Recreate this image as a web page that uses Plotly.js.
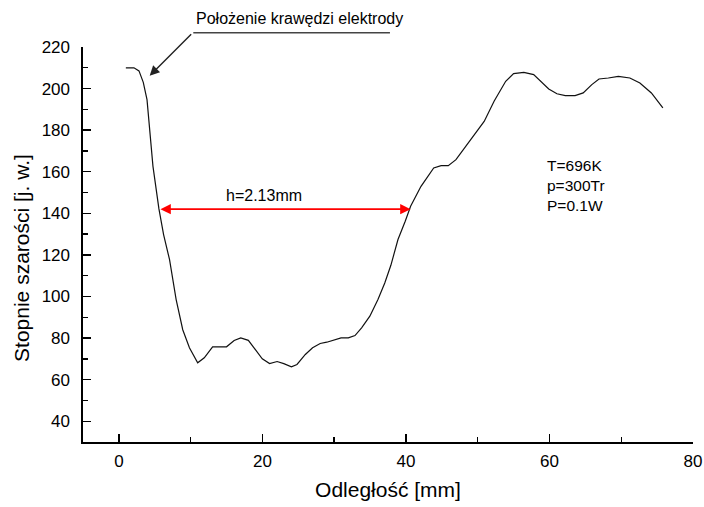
<!DOCTYPE html>
<html>
<head>
<meta charset="utf-8">
<script src="https://cdn.plot.ly/plotly-3.0.1.min.js"></script>
<style>html,body{margin:0;padding:0;background:#fff;}#chart{width:704px;height:507px;}</style>
</head>
<body>
<div id="chart"></div>
<script>
// Distance along the sample [mm]
const distance = [0.97, 2.1, 2.8, 3.4, 3.92, 4.75, 5.58, 6.23, 7.06, 7.98, 8.9, 9.83, 10.98, 11.9, 13.06, 15.0, 16.06, 16.98, 18.04, 19.98, 21.0, 22.05, 22.98, 24.04, 24.82, 25.98, 26.99, 28.05, 28.97, 29.9, 30.96, 31.97, 32.9, 33.82, 34.97, 36.1, 37.05, 37.9, 38.89, 39.9, 40.65, 42.1, 43.87, 44.9, 45.9, 46.97, 49.0, 50.0, 50.9, 52.3, 53.9, 55.0, 56.43, 57.8, 58.96, 59.9, 61.04, 62.2, 63.57, 64.7, 65.9, 66.9, 68.2, 69.6, 71.2, 72.6, 74.2, 75.8];
// Grey level [arb. units]
const greyLevel = [210, 210, 208.5, 203, 194.7, 162.6, 142.1, 129.8, 117.7, 98.5, 84, 75.3, 68.1, 70.5, 75.8, 75.8, 78.8, 80.1, 78.9, 70.0, 67.7, 68.7, 67.7, 66.2, 67.3, 72.1, 75.3, 77.4, 78.0, 78.9, 80.1, 80.1, 81.2, 84.9, 90.5, 98.5, 106.5, 115, 127.4, 136.2, 143.4, 153, 161.8, 162.9, 162.9, 165.8, 175.4, 180.2, 184.2, 194, 203.5, 207.2, 207.8, 206.7, 202.7, 199.8, 197.5, 196.6, 196.6, 197.9, 201.9, 204.6, 205.1, 205.9, 205.1, 202.7, 197.9, 190.7];

// Width marker (h) endpoints and level
const hStart = 5.58;
const hEnd = 40.65;
const hLevel = 142;
const hLabel = 'h=2.13mm';
// Electrode edge pointer target
const edgeX = 4.29;
const edgeY = 206.2;
const edgeLabel = 'Położenie krawędzi elektrody';
const conditions = ['T=696K', 'p=300Tr', 'P=0.1W'];
const xTitle = 'Odległość [mm]';
const yTitle = 'Stopnie szarości [j. w.]';

const FONT = 'Liberation Sans, Arial, Helvetica, sans-serif';

const trace = {
  x: distance,
  y: greyLevel,
  type: 'scatter',
  mode: 'lines',
  line: {color: '#111', width: 1.2},
  hoverinfo: 'x+y',
  showlegend: false
};

const axisCommon = {
  showgrid: false,
  zeroline: false,
  showline: true,
  linecolor: '#000',
  linewidth: 1.6,
  ticks: 'inside',
  ticklen: 8,
  tickwidth: 1.4,
  tickcolor: '#000',
  tickfont: {family: FONT, size: 17, color: '#000'},
  ticklabeloverflow: 'allow',
  mirror: false
};

const layout = {
  width: 704,
  height: 507,
  margin: {l: 83, r: 11, t: 47, b: 65},
  paper_bgcolor: '#fff',
  plot_bgcolor: '#fff',
  font: {family: FONT, color: '#000'},
  xaxis: Object.assign({}, axisCommon, {
    range: [-5, 80],
    tick0: 0,
    dtick: 20,
    ticklabelstandoff: 3,
    minor: {dtick: 10, ticks: 'inside', ticklen: 5, tickwidth: 1.4, tickcolor: '#000', showgrid: false},
    title: {text: xTitle, font: {family: FONT, size: 21, color: '#000'}, standoff: 12}
  }),
  yaxis: Object.assign({}, axisCommon, {
    range: [30, 220],
    tick0: 0,
    dtick: 20,
    ticklabelstandoff: 8,
    minor: {dtick: 10, ticks: 'inside', ticklen: 5, tickwidth: 1.4, tickcolor: '#000', showgrid: false}
  }),
  shapes: [
    {type: 'line', xref: 'paper', yref: 'paper', x0: 0.1808, x1: 0.5032, y0: 1.036, y1: 1.036,
     line: {color: '#444', width: 1.5}}
  ],
  annotations: [
    {x: -0.101, y: 0.467, xref: 'paper', yref: 'paper', text: yTitle, textangle: -90, showarrow: false,
     xanchor: 'center', yanchor: 'middle', font: {family: FONT, size: 21, color: '#000'}},
    {x: hEnd, y: hLevel, ax: hStart, ay: hLevel, xref: 'x', yref: 'y', axref: 'x', ayref: 'y',
     text: '', showarrow: true, arrowside: 'end+start', arrowhead: 2, startarrowhead: 2,
     arrowsize: 1.3, startarrowsize: 1.3, arrowwidth: 1.6, arrowcolor: '#ff0000', standoff: 0, startstandoff: 0},
    {x: (hStart + hEnd) / 2 - 2.9, y: hLevel + 1.5, xref: 'x', yref: 'y', text: hLabel, showarrow: false,
     yanchor: 'bottom', font: {family: FONT, size: 16, color: '#000'}},
    {x: edgeX, y: edgeY, xref: 'x', yref: 'y', ax: 43, ay: -43, text: '', showarrow: true,
     arrowhead: 2, arrowsize: 1.4, arrowwidth: 1.4, arrowcolor: '#222', standoff: 0},
    {x: 0.3552, y: 1.072, xref: 'paper', yref: 'paper', text: edgeLabel, showarrow: false,
     xanchor: 'center', yanchor: 'middle', font: {family: FONT, size: 16, color: '#000'}},
    {x: 0.7573, y: 0.649, xref: 'paper', yref: 'paper', text: conditions.join('<br>'), showarrow: false,
     xanchor: 'left', yanchor: 'middle', align: 'left', font: {family: FONT, size: 15.5, color: '#000'}}
  ]
};

Plotly.newPlot('chart', [trace], layout, {displayModeBar: false, staticPlot: true});
</script>
</body>
</html>
